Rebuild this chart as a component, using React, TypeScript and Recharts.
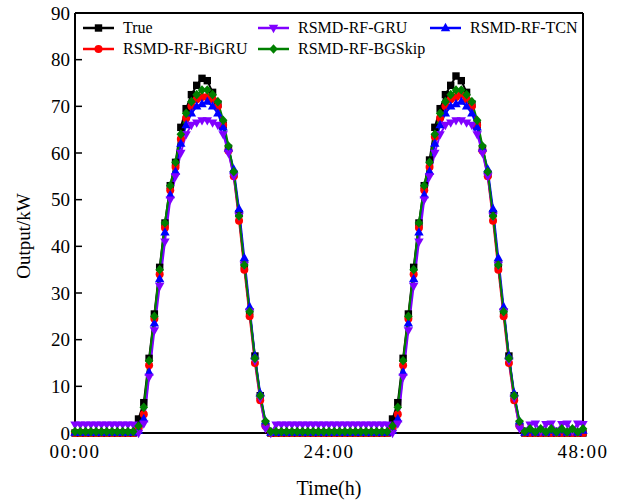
import React from "react";
import { LineChart, Line, XAxis, YAxis, ReferenceLine } from "recharts";

// half-hourly samples, 00:00 .. 48:00
const trueVals = [
  0, 0, 0, 0, 0, 0, 0, 0, 0, 0, 0, 0,
  3, 6.5, 16, 25.5, 35.5, 45, 53, 58, 65.5, 69.5, 72.5, 74.5, 76, 75.5, 73, 70.5, 66, 61, 55.5, 47, 36, 26, 16.5, 8, 2, 0,
  0, 0, 0, 0, 0, 0, 0, 0, 0, 0, 0, 0, 0, 0, 0, 0, 0, 0, 0, 0, 0, 0,
  3, 6.5, 16, 25.5, 35.5, 45, 53, 58.5, 65.5, 69.5, 72.5, 74.5, 76.5, 75.5, 73, 70.5, 66, 61, 55.5, 47, 36, 26, 16.5, 8, 2, 0,
  0, 0, 0, 0, 0, 0, 0, 0, 0, 0, 0,
];
const biGruVals = [
  0, 0, 0, 0, 0, 0, 0, 0, 0, 0, 0, 0,
  1, 4, 14.5, 24.5, 34, 44, 52, 57, 63, 67.5, 70, 71.5, 72, 72, 71.5, 70, 66, 60.5, 55, 45.5, 35, 25, 15, 7, 1.5, 0,
  0, 0, 0, 0, 0, 0, 0, 0, 0, 0, 0, 0, 0, 0, 0, 0, 0, 0, 0, 0, 0, 0,
  1, 4, 14.5, 24.5, 34, 44, 52, 57, 63.5, 67.5, 70, 71.5, 72, 72.5, 71.5, 70, 66, 60.5, 55, 45.5, 35, 25, 15, 7, 1.5, 0,
  0, 0, 0, 0, 0, 0, 0, 0, 0, 0, 0,
];
const gruVals = [
  1.8, 1.8, 1.8, 1.8, 1.8, 1.8, 1.8, 1.8, 1.8, 1.8, 1.8, 1.8,
  0, 2, 12, 22, 31.5, 41, 50, 55, 60, 64, 66, 66.5, 67, 67, 66.5, 66, 64, 60, 55, 46.5, 36, 26, 15.5, 7.5, 1, 0,
  1.8, 1.8, 1.8, 1.8, 1.8, 1.8, 1.8, 1.8, 1.8, 1.8, 1.8, 1.8, 1.8, 1.8, 1.8, 1.8, 1.8, 1.8, 1.8, 1.8, 1.8, 1.8,
  0, 2, 12, 22, 31.5, 41, 50, 55, 60, 64, 66, 66.5, 67, 67, 66.5, 66, 64, 60, 55, 46.5, 36, 26, 15.5, 7.5, 1, 0.5,
  1.8, 2, 0.5, 1.9, 2, 0.5, 1.9, 2, 0.5, 2, 1.9,
];
const bgSkipVals = [
  0.3, 0.3, 0.3, 0.3, 0.3, 0.3, 0.3, 0.3, 0.3, 0.3, 0.3, 0.3,
  1.5, 5.5, 15.5, 25, 35, 45, 53, 58, 64, 68.5, 71, 72.5, 73.5, 73.5, 72.5, 71, 67, 61.5, 56, 46.5, 36, 26, 16, 8, 2.5, 0.3,
  0.3, 0.3, 0.3, 0.3, 0.3, 0.3, 0.3, 0.3, 0.3, 0.3, 0.3, 0.3, 0.3, 0.3, 0.3, 0.3, 0.3, 0.3, 0.3, 0.3, 0.3, 0.3,
  1.5, 5.5, 15.5, 25, 35, 45, 53, 58, 64, 68.5, 71, 72.5, 73.5, 73.5, 72.5, 71, 67, 61.5, 56, 46.5, 36, 26, 16, 8, 2.5, 0.3,
  0.9, 0.2, 0.9, 0.2, 0.9, 0.2, 0.9, 0.2, 0.9, 0.2, 0.9,
];
const tcnVals = [
  0.1, 0.1, 0.1, 0.1, 0.1, 0.1, 0.1, 0.1, 0.1, 0.1, 0.1, 0.1,
  0.5, 3, 13, 23.5, 33, 43, 51, 56, 62, 66, 68.5, 70, 70.5, 71, 70, 68.5, 65.5, 61, 56.5, 48, 37.5, 27, 16.5, 8.5, 2.5, 0.1,
  0.1, 0.1, 0.1, 0.1, 0.1, 0.1, 0.1, 0.1, 0.1, 0.1, 0.1, 0.1, 0.1, 0.1, 0.1, 0.1, 0.1, 0.1, 0.1, 0.1, 0.1, 0.1,
  0.5, 3, 13, 23.5, 33, 43, 51, 56, 62, 66, 68.5, 70, 70.5, 71, 70, 68.5, 65.5, 61, 56.5, 48, 37.5, 27, 16.5, 8.5, 2.5, 0.1,
  0.5, 0.1, 0.6, 0.1, 0.5, 0.1, 0.6, 0.1, 0.5, 0.1, 0.5,
];

const xTicks = [0, 24, 48];
const xTickLabels = ["00:00", "24:00", "48:00"];
const yTicks = [0, 10, 20, 30, 40, 50, 60, 70, 80, 90];

const data = trueVals.map((v, i) => ({
  h: i / 2,
  t: v,
  bigru: biGruVals[i],
  gru: gruVals[i],
  bgskip: bgSkipVals[i],
  tcn: tcnVals[i],
}));

type Shape = "square" | "circle" | "down" | "diamond" | "up";

const series: { key: string; name: string; color: string; shape: Shape }[] = [
  { key: "t", name: "True", color: "#000000", shape: "square" },
  { key: "bigru", name: "RSMD-RF-BiGRU", color: "#FF0000", shape: "circle" },
  { key: "tcn", name: "RSMD-RF-TCN", color: "#0000FF", shape: "up" },
  { key: "gru", name: "RSMD-RF-GRU", color: "#8000FF", shape: "down" },
  { key: "bgskip", name: "RSMD-RF-BGSkip", color: "#008000", shape: "diamond" },
];

// legend columns (column-major, 2 rows)
const legendCols = [["t", "bigru"], ["gru", "bgskip"], ["tcn"]];

const FONT = "'Liberation Serif', 'Times New Roman', serif";

const Marker = ({ x, y, shape, color }: { x: number; y: number; shape: Shape; color: string }) => {
  if (shape === "square") return <rect x={x - 3.7} y={y - 3.7} width={7.4} height={7.4} fill={color} />;
  if (shape === "circle") return <circle cx={x} cy={y} r={4} fill={color} />;
  if (shape === "diamond")
    return <polygon points={`${x},${y - 4.8} ${x + 4.3},${y} ${x},${y + 4.8} ${x - 4.3},${y}`} fill={color} />;
  if (shape === "up")
    return <polygon points={`${x},${y - 5.2} ${x + 4.7},${y + 3.2} ${x - 4.7},${y + 3.2}`} fill={color} />;
  return <polygon points={`${x},${y + 5.2} ${x + 4.7},${y - 3.2} ${x - 4.7},${y - 3.2}`} fill={color} />;
};

const makeDot = (shape: Shape, color: string) => (props: any) => {
  const { cx, cy, index } = props;
  if (cx == null || cy == null) return <g key={index} />;
  return (
    <g key={index}>
      <Marker x={cx} y={cy} shape={shape} color={color} />
    </g>
  );
};

const LegendBox = () => {
  const colWidths = [175, 172, 150];
  return (
    <div
      style={{
        position: "absolute",
        left: 83,
        top: 17,
        display: "flex",
        fontFamily: FONT,
        fontSize: 16,
        color: "#000",
        lineHeight: "20px",
        whiteSpace: "nowrap",
      }}
    >
      {legendCols.map((col, ci) => (
        <div key={ci} style={{ width: colWidths[ci] }}>
          {col.map((k) => {
            const s = series.find((x) => x.key === k)!;
            return (
              <div key={k} style={{ display: "flex", alignItems: "center", height: 21 }}>
                <svg width={31} height={14} style={{ marginRight: 9 }}>
                  <line x1={0} y1={7} x2={31} y2={7} stroke={s.color} strokeWidth={2.5} />
                  <Marker x={15.5} y={7} shape={s.shape} color={s.color} />
                </svg>
                <span>{s.name}</span>
              </div>
            );
          })}
        </div>
      ))}
    </div>
  );
};

export default function App() {
  return (
    <div style={{ position: "absolute", left: 0, top: 0, width: 624, height: 500, background: "#fff" }}>
      <LineChart width={624} height={500} data={data} margin={{ top: 13, right: 41, left: 0, bottom: 0 }}>
        <XAxis
          dataKey="h"
          type="number"
          domain={[0, 48]}
          ticks={xTicks}
          tickFormatter={(v: number) => xTickLabels[xTicks.indexOf(v)]}
          height={67}
          axisLine={{ stroke: "#000", strokeWidth: 2 }}
          tickLine={{ stroke: "#000", strokeWidth: 1.5 }}
          tickSize={-7}
          tickMargin={19}
          tick={{ fill: "#000", fontFamily: FONT, fontSize: 19, letterSpacing: 1.5 }}
          label={{
            content: () => (
              <text x={329} y={495} textAnchor="middle" fontFamily={FONT} fontSize={20} fill="#000">
                Time(h)
              </text>
            ),
          }}
        />
        <YAxis
          domain={[0, 90]}
          ticks={yTicks}
          width={75}
          axisLine={{ stroke: "#000", strokeWidth: 2 }}
          tickLine={{ stroke: "#000", strokeWidth: 1.5 }}
          tickSize={-7}
          tickMargin={12}
          tick={{ fill: "#000", fontFamily: FONT, fontSize: 19 }}
          label={{
            content: () => (
              <text x={30} y={236} transform="rotate(-90 30 236)" textAnchor="middle" fontFamily={FONT} fontSize={19} fill="#000">
                Output/kW
              </text>
            ),
          }}
        />
        <ReferenceLine y={90} stroke="#000" strokeWidth={2} ifOverflow="visible" />
        <ReferenceLine x={48} stroke="#000" strokeWidth={2} ifOverflow="visible" />
        {series.map((s) => (
          <Line
            key={s.key}
            dataKey={s.key}
            name={s.name}
            type="linear"
            stroke={s.color}
            strokeWidth={2}
            dot={makeDot(s.shape, s.color)}
            activeDot={false}
            isAnimationActive={false}
          />
        ))}
      </LineChart>
      <LegendBox />
    </div>
  );
}
